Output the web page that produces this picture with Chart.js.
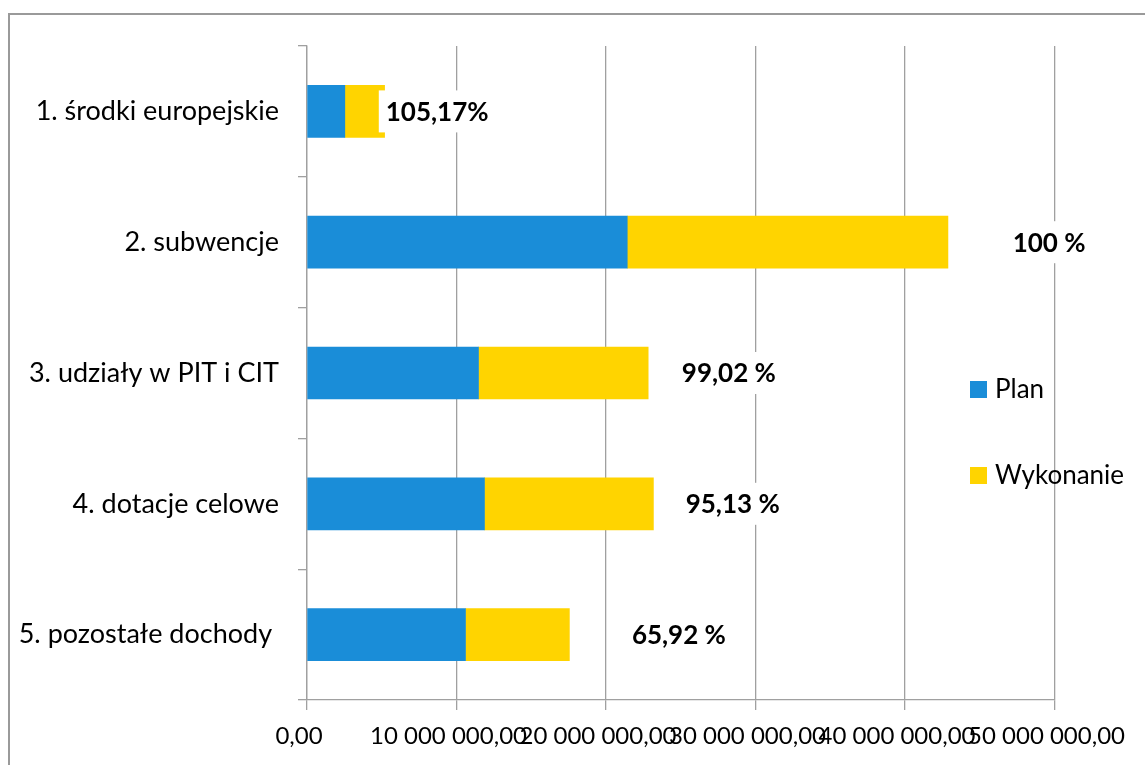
<!DOCTYPE html>
<html>
<head>
<meta charset="utf-8">
<script src="https://cdn.jsdelivr.net/npm/chart.js@4"></script>
<style>
  html, body { margin: 0; padding: 0; background: #fff; }
  .wrap { position: relative; width: 1145px; height: 765px; overflow: hidden; }
  .frame {
    position: absolute; left: 8px; top: 13px; width: 1200px; height: 800px;
    border-left: 2px solid #9a9a9a; border-top: 2px solid #9a9a9a;
    pointer-events: none;
  }
</style>
</head>
<body>
<div class="wrap">
  <canvas id="dochodyChart" width="1145" height="765"></canvas>
  <div class="frame"></div>
</div>
<script>
const categories = [
  '1. środki europejskie',
  '2. subwencje',
  '3. udziały w PIT i CIT',
  '4. dotacje celowe',
  '5. pozostałe dochody ',
];
const planValues = [2530000, 21420000, 11470000, 11870000, 10600000];
const wykonanieValues = [2660000, 21450000, 11350000, 11300000, 6950000];
const percentLabels = ['105,17%', '100 %', '99,02 %', '95,13 %', '65,92 %'];
// where each percent label starts, in axis units
const percentLabelAt = [5270000, 47200000, 25070000, 25330000, 21730000];
const xTicks = [0, 10000000, 20000000, 30000000, 40000000, 50000000];

const FONT = 'Lato, "Open Sans", sans-serif';
const BLUE = '#1a8dd8';
const YELLOW = '#ffd400';
const GRID = '#a0a0a0';

function formatPl(value) {
  const whole = Math.round(value).toString().replace(/\B(?=(\d{3})+(?!\d))/g, ' ');
  return `${whole},00`;
}

const percentPlugin = {
  id: 'percentLabels',
  afterDatasetsDraw(chart) {
    const { ctx } = chart;
    const xScale = chart.scales.x;
    const yScale = chart.scales.y;
    ctx.save();
    ctx.font = `bold 26px ${FONT}`;
    ctx.textAlign = 'left';
    ctx.textBaseline = 'middle';
    percentLabels.forEach((text, i) => {
      const x = xScale.getPixelForValue(percentLabelAt[i]);
      const y = yScale.getPixelForValue(i);
      const w = ctx.measureText(text).width;
      ctx.fillStyle = '#fff';
      ctx.fillRect(x - 7, y - 21, w + 14, 42);
      ctx.fillStyle = '#000';
      ctx.fillText(text, x, y + 1);
    });
    ctx.restore();
  },
};

const legendPlugin = {
  id: 'sideLegend',
  afterDraw(chart) {
    const { ctx } = chart;
    const items = chart.data.datasets.map((ds, i) => ({
      label: ds.label,
      color: ds.backgroundColor,
      top: i === 0 ? 381 : 467,
    }));
    ctx.save();
    ctx.font = `26px ${FONT}`;
    ctx.textAlign = 'left';
    ctx.textBaseline = 'middle';
    items.forEach((item) => {
      ctx.fillStyle = item.color;
      ctx.fillRect(970, item.top, 17, 17);
      ctx.fillStyle = '#000';
      ctx.fillText(item.label, 995, item.top + 9);
    });
    ctx.restore();
  },
};

const ctx = document.getElementById('dochodyChart').getContext('2d');

new Chart(ctx, {
  type: 'bar',
  data: {
    labels: categories,
    datasets: [
      {
        label: 'Plan',
        data: planValues,
        backgroundColor: BLUE,
        barThickness: 52,
      },
      {
        label: 'Wykonanie',
        data: wykonanieValues,
        backgroundColor: YELLOW,
        barThickness: 52,
      },
    ],
  },
  options: {
    indexAxis: 'y',
    responsive: false,
    animation: false,
    devicePixelRatio: 1,
    layout: {
      padding: { left: 0, top: 46, right: 88, bottom: 0 },
    },
    plugins: {
      legend: { display: false },
      tooltip: { enabled: false },
    },
    scales: {
      x: {
        stacked: true,
        min: 0,
        max: 50000000,
        afterBuildTicks(scale) {
          scale.ticks = xTicks.map((value) => ({ value }));
        },
        afterFit(scale) {
          scale.height = 65;
        },
        grid: {
          color: GRID,
          lineWidth: 1.3,
          tickLength: 10,
        },
        border: { color: GRID, width: 1.3 },
        ticks: {
          callback(value) {
            return formatPl(value);
          },
          font: { family: FONT, size: 24 },
          color: '#000',
          padding: 12,
          labelOffset: -8,
          maxRotation: 0,
          autoSkip: false,
        },
      },
      y: {
        stacked: true,
        afterFit(scale) {
          scale.width = 307;
        },
        grid: {
          offset: true,
          drawOnChartArea: false,
          color: GRID,
          lineWidth: 1.3,
          tickLength: 9,
        },
        border: { color: GRID, width: 1.3 },
        ticks: {
          font: { family: FONT, size: 27 },
          color: '#000',
          padding: 19,
        },
      },
    },
  },
  plugins: [percentPlugin, legendPlugin],
});
</script>
</body>
</html>
